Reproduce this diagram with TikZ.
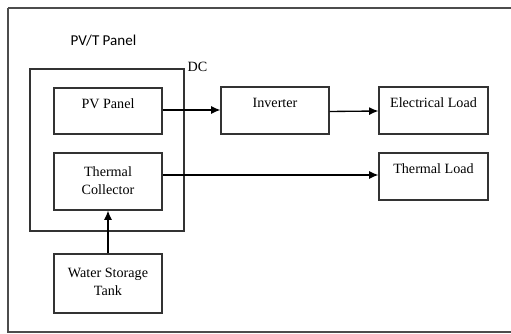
\documentclass[tikz,border=0pt]{standalone}
\usepackage{fontspec}
\setmainfont{Liberation Serif}
\newfontfamily\calib{Carlito}
\usetikzlibrary{arrows.meta}
\begin{document}
\begin{tikzpicture}[x=0.75pt,y=-0.75pt,
  boxst/.style={draw=black!80,line width=0.8pt,rectangle,inner sep=0pt},
  txt/.style={font=\fontsize{10.6}{13.5}\selectfont,align=center,inner sep=0pt},
  arr/.style={line width=1pt,-{Latex[length=7pt,width=6pt]}}]
\useasboundingbox (0,0) rectangle (511,334);
\draw[draw=black!70,line width=0.9pt] (8,8) -- (520,8) (8,8) -- (8,332) -- (520,332);
% PV/T enclosure
\node[boxst,minimum width=154*0.75pt,minimum height=162*0.75pt] (pvt) at (107,150) {};
\node[font=\calib\fontsize{11.3}{13}\selectfont,inner sep=0pt] (pvtlbl) at (103.5,41) {PV/T Panel};
\node[txt] (dc) at (197.5,67) {DC};
% boxes
\node[boxst,minimum width=108*0.75pt,minimum height=46*0.75pt] (pv) at (108,111) {};
\node[txt] (pvt1) at (108,104) {PV Panel};
\node[boxst,minimum width=108*0.75pt,minimum height=57*0.75pt] (tc) at (108,181.5) {};
\node[txt] (tct) at (108,180.5) {Thermal\\Collector};
\node[boxst,minimum width=108*0.75pt,minimum height=59*0.75pt] (ws) at (108,283.5) {};
\node[txt] (wst) at (108,281.5) {Water Storage\\Tank};
\node[boxst,minimum width=108*0.75pt,minimum height=47*0.75pt] (inv) at (275,110.5) {};
\node[txt] (invt) at (275,103) {Inverter};
\node[boxst,minimum width=109*0.75pt,minimum height=47*0.75pt] (el) at (433.5,110.5) {};
\node[txt] (elt) at (433.5,103) {Electrical Load};
\node[boxst,minimum width=109*0.75pt,minimum height=47*0.75pt] (tl) at (433.5,176.5) {};
\node[txt] (tlt) at (433.5,169) {Thermal Load};
% arrows
\draw[arr] (pv.east |- 0,110) -- (inv.west |- 0,110);
\draw[arr] (inv.east |- 0,111.5) -- (el.west |- 0,111);
\draw[arr] (tc.east |- 0,175) -- (tl.west |- 0,175);
\draw[arr] (ws.north) -- (tc.south);
\end{tikzpicture}
\end{document}
